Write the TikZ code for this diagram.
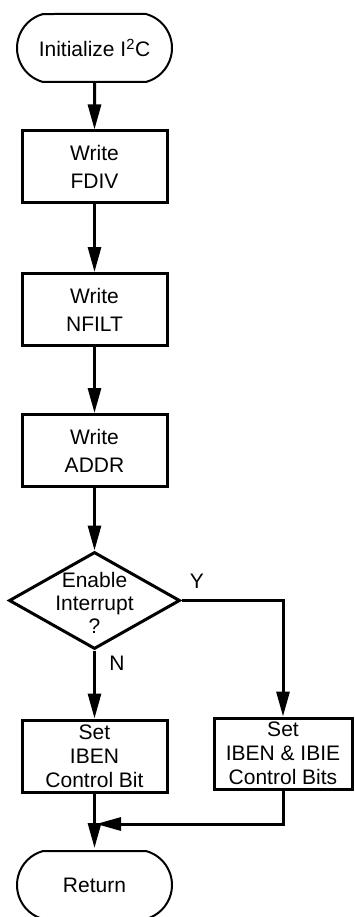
\documentclass[tikz,border=0pt]{standalone}
\usepackage{fontspec}
\setmainfont{Liberation Sans}
\usetikzlibrary{arrows.meta,shapes.geometric,shapes.misc}

\tikzset{
  txt/.style={font=\fontsize{21}{28}\selectfont, align=center},
  terminal/.style={txt, draw, line width=2pt, rounded rectangle,
    rounded rectangle arc length=150, minimum width=155pt,
    minimum height=68pt, inner sep=0pt},
  stepbox/.style={txt, draw, line width=3pt, minimum width=145pt,
    minimum height=72pt, inner sep=0pt},
  setbox/.style={stepbox, font=\fontsize{21}{24}\selectfont},
  decision/.style={draw, line width=3pt, diamond, minimum width=171pt,
    minimum height=97pt, inner sep=0pt},
  flow/.style={line width=3pt, -{Triangle[length=25pt,width=13pt]}},
  plain/.style={line width=3pt},
  tag/.style={font=\fontsize{21}{24}\selectfont}
}

\begin{document}
\begin{tikzpicture}[x=1pt, y=-1pt]
  \useasboundingbox (0,0) rectangle (354,917);

  % main column
  \node[terminal] (start) at (94.5,48) {Initialize I\textsuperscript{2}C};
  \node[stepbox] (fdiv)  at (94.5,167)   {Write\\FDIV};
  \node[stepbox] (nfilt) at (94.5,309.5) {Write\\NFILT};
  \node[stepbox] (addr)  at (94.5,450.5) {Write\\ADDR};
  \node[decision] (dec)  at (94.5,600.5) {};
  \node[txt, font=\fontsize{21}{23}\selectfont] (dectext) at (94.5,603) {Enable\\Interrupt\\?};
  \node[setbox] (iben) at (94.5,756) {Set\\IBEN\\Control Bit};
  \node[setbox, minimum width=138pt, minimum height=71pt] (both) at (283,753.5)
    {Set\\IBEN \& IBIE\\Control Bits};
  \node[terminal] (ret) at (94.5,885) {Return};

  % branch labels
  \node[tag] (ylab) at (197,581) {Y};
  \node[tag] (nlab) at (117,663) {N};

  % connectors
  \draw[flow] (start) -- (fdiv);
  \draw[flow] (fdiv) -- (nfilt);
  \draw[flow] (nfilt) -- (addr);
  \draw[flow] (addr) -- (dec);
  \draw[flow] (dec.south) -- (iben.north);
  \draw[flow] (dec.east) -| (both.north);
  \draw[flow, shorten >=2pt] (iben.south) -- (ret.north);
  \coordinate (merge) at (94.5,824);
  \draw[flow, shorten >=1.5pt] (both.south) |- (merge);
\end{tikzpicture}
\end{document}
